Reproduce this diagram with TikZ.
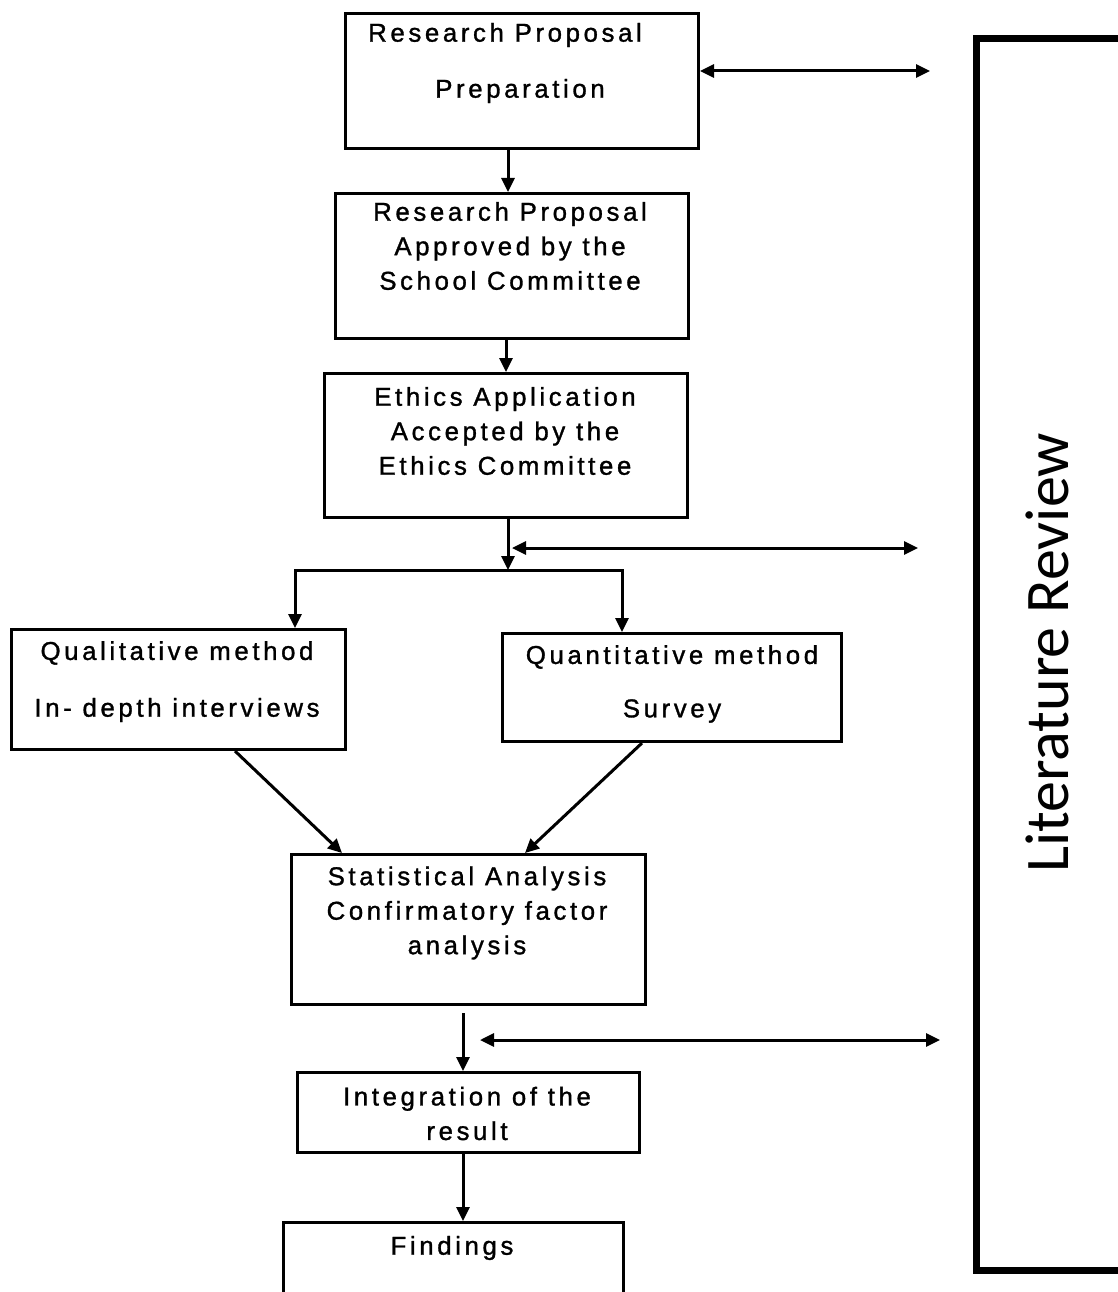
\documentclass[tikz,border=0pt]{standalone}
\usepackage{fontspec}
\setmainfont{Liberation Sans}[LetterSpace=14,FakeBold=1.2]
\newfontfamily\reviewfont{Carlito}
\usetikzlibrary{arrows.meta,calc}

\begin{document}
\begin{tikzpicture}[x=1pt,y=-1pt,
  box/.style={draw, line width=3pt, inner sep=0pt, anchor=north west},
  txt/.style={font=\fontsize{25.8}{34.5}\selectfont, align=center, inner sep=0pt},
  link/.style={line width=3pt, -{Triangle[length=14pt,width=13pt]}},
  both/.style={line width=3pt, {Triangle[length=14pt,width=13pt]}-{Triangle[length=14pt,width=13pt]}},
]
\useasboundingbox (0,0) rectangle (1118,1292);
\begin{scope}
\clip (0,0) rectangle (1118,1292);

% process boxes
\node[box, minimum width=353pt, minimum height=135pt] (prep)  at (344,12)   {};
\node[box, minimum width=353pt, minimum height=145pt] (appr)  at (334,192)  {};
\node[box, minimum width=363pt, minimum height=144pt] (eth)   at (323,372)  {};
\node[box, minimum width=334pt, minimum height=120pt] (qual)  at (10,628)   {};
\node[box, minimum width=339pt, minimum height=108pt] (quant) at (501,632)  {};
\node[box, minimum width=354pt, minimum height=150pt] (stat)  at (290,853)  {};
\node[box, minimum width=342pt, minimum height=80pt]  (integ) at (296,1071) {};
\node[box, minimum width=340pt, minimum height=100pt] (find)  at (282,1221) {};

% literature review column
\draw[line width=7pt] (976.5,38.5) rectangle (1121,1270);
\node[rotate=90, anchor=base, inner sep=0pt, font=\reviewfont\fontsize{62}{70}\selectfont] (lit) at (1068,653) {Literature Review};

% box texts
\node[txt] (prepA) at (505,35) {Research Proposal};
\node[txt] (prepB) at (520,91) {Preparation};
\node[txt] (apprT) at (510,246) {Research Proposal\\Approved by the\\School Committee};
\node[txt] (ethT) at (505,431) {Ethics Application\\Accepted by the\\Ethics Committee};
\node[txt] (qualA) at (177,653) {Qualitative method};
\node[txt] (qualB) at (177,710) {In- depth interviews};
\node[txt] (quantA) at (672,657) {Quantitative method};
\node[txt] (quantB) at (672,711) {Survey};
\node[txt] (statT) at (467,913) {Statistical Analysis\\Confirmatory factor\\analysis};
\node[txt] (integT) at (467,1113.5) {Integration of the\\result};
\node[txt] (findT) at (452,1248) {Findings};

% free ends of the review links
\coordinate (r1) at (930,71);
\coordinate (r2) at (918,548);
\coordinate (r3) at (940,1040);
\coordinate (split) at (508,570);

% main flow
\draw[link] (508,0 |- prep.south) -- (508,0 |- appr.north);
\draw[link] (506,0 |- appr.south) -- (506,0 |- eth.north);
\draw[link] (508,0 |- eth.south) -- (split);
\draw[link] (split) -| (295,0 |- qual.north);
\draw[link] (split) -| (622,0 |- quant.north);
\draw[link] (235,0 |- qual.south) -- (342,0 |- stat.north);
\draw[link] (642,0 |- quant.south) -- (525,0 |- stat.north);
\draw[link] ($(463,0 |- stat.south)+(0,7)$) -- (463,0 |- integ.north);
\draw[link] (463,0 |- integ.south) -- (463,0 |- find.north);

% links to the review column
\draw[both] (prep.east |- r1) -- (r1);
\draw[both] (512,548) -- (r2);
\draw[both] (480,1040) -- (r3);
\end{scope}
\end{tikzpicture}
\end{document}
